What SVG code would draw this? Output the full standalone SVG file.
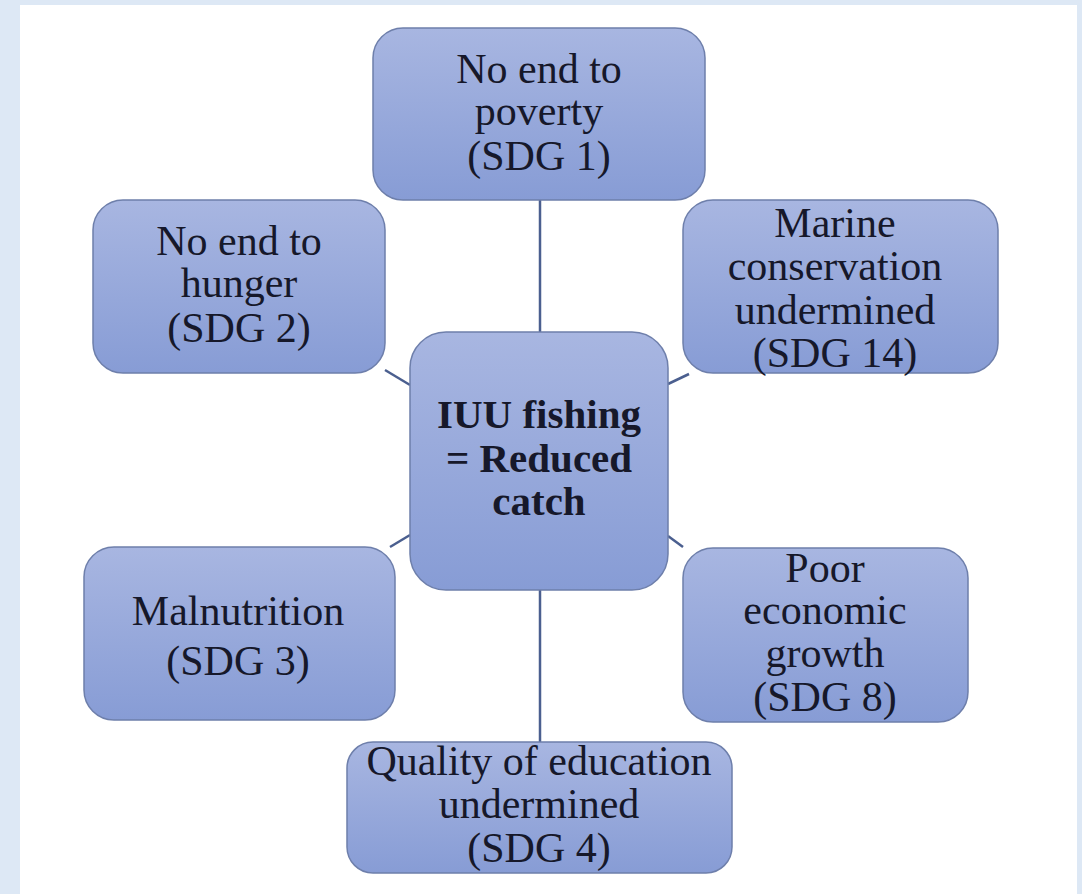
<svg xmlns="http://www.w3.org/2000/svg" width="1082" height="894" viewBox="0 0 1082 894">
<defs>
<linearGradient id="boxfill" x1="0" y1="0" x2="0" y2="1">
<stop offset="0" stop-color="#a8b6e1"/>
<stop offset="1" stop-color="#879cd5"/>
</linearGradient>
<style>
.box{fill:url(#boxfill);stroke:#6e7fab;stroke-width:1.5}
.t{font-family:"Liberation Serif","Times New Roman",serif;font-size:42px;fill:#16182a;text-anchor:middle}
.b{font-weight:bold;font-size:41px}
.conn{stroke:#4b5f8f;stroke-width:2.5;fill:none}
</style>
</defs>
<rect x="0" y="0" width="1082" height="894" fill="#dde8f5"/>
<rect x="20" y="5" width="1057" height="889" fill="#ffffff"/>
<g id="connectors">
<line class="conn" x1="540" y1="200" x2="540" y2="332"/>
<line class="conn" x1="540" y1="590" x2="540" y2="742"/>
<line class="conn" x1="385" y1="370" x2="410" y2="385"/>
<line class="conn" x1="668" y1="384" x2="689" y2="374"/>
<line class="conn" x1="390" y1="547" x2="410" y2="535"/>
<line class="conn" x1="668" y1="536" x2="683" y2="547"/>
</g>
<g id="node-sdg1">
<rect class="box" x="373" y="28" width="332" height="172" rx="30"/>
<text class="t" x="539" y="83">No end to</text>
<text class="t" x="539" y="125">poverty</text>
<text class="t" x="539" y="170">(SDG 1)</text>
</g>
<g id="node-sdg2">
<rect class="box" x="93" y="200" width="292" height="173" rx="30"/>
<text class="t" x="239" y="255">No end to</text>
<text class="t" x="239" y="297">hunger</text>
<text class="t" x="239" y="342">(SDG 2)</text>
</g>
<g id="node-sdg14">
<rect class="box" x="683" y="200" width="315" height="173" rx="30"/>
<text class="t" x="835" y="237">Marine</text>
<text class="t" x="835" y="280">conservation</text>
<text class="t" x="835" y="324">undermined</text>
<text class="t" x="835" y="367">(SDG 14)</text>
</g>
<g id="node-center">
<rect class="box" x="410" y="332" width="258" height="258" rx="36"/>
<text class="t b" x="539" y="428">IUU fishing</text>
<text class="t b" x="539" y="472">= Reduced</text>
<text class="t b" x="539" y="515">catch</text>
</g>
<g id="node-sdg3">
<rect class="box" x="84" y="547" width="311" height="173" rx="30"/>
<text class="t" x="238" y="625">Malnutrition</text>
<text class="t" x="238" y="675">(SDG 3)</text>
</g>
<g id="node-sdg8">
<rect class="box" x="683" y="548" width="285" height="174" rx="30"/>
<text class="t" x="825" y="582">Poor</text>
<text class="t" x="825" y="624">economic</text>
<text class="t" x="825" y="667">growth</text>
<text class="t" x="825" y="711">(SDG 8)</text>
</g>
<g id="node-sdg4">
<rect class="box" x="347" y="742" width="385" height="131" rx="26"/>
<text class="t" x="539" y="775">Quality of education</text>
<text class="t" x="539" y="818">undermined</text>
<text class="t" x="539" y="862">(SDG 4)</text>
</g>
</svg>
